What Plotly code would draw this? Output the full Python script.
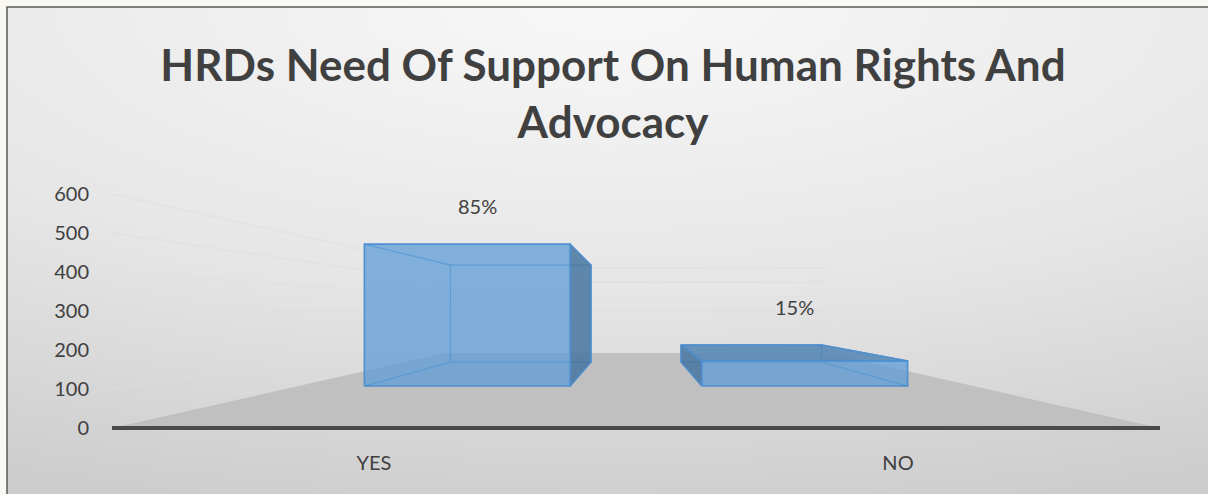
import plotly.graph_objects as go

# ---- data -------------------------------------------------------------
categories = ["YES", "NO"]
responses = [565, 100]
y_ticks = [0, 100, 200, 300, 400, 500, 600]
title_lines = ["HRDs Need Of Support On Human Rights And", "Advocacy"]

# ---- canvas / perspective settings -------------------------------------
W, H = 1208, 494
FONT = "Lato"

# plot area of the chart subplot in pixels
PX_LEFT, PX_RIGHT = 100, 1200
PX_TOP, PX_BOTTOM = 175, 445
FLOOR_LEFT_PX = 112          # pixel of the floor's front-left corner
PX_PER_CAT = 524             # pixels per category on the front plane
ZERO_PX = 428                # pixel row of value 0 on the front plane
PX_PER_VAL = 0.39            # pixels per value unit on the front plane

# vanishing point (category units, value units) and depths
EYE_X = 0.5
EYE_V = 302
FLOOR_DEPTH = 1.747
BAR_Z0, BAR_Z1 = 0.553, 1.273
BAR_HALF = 0.305


def project(x, v, z):
    """Perspective projection onto the front plane (z = 0)."""
    s = 1.0 / (1.0 + z)
    return EYE_X + s * (x - EYE_X), EYE_V + s * (v - EYE_V)


def poly(points):
    xs, ys = [], []
    for p in points:
        px, py = project(*p)
        xs.append(px)
        ys.append(py)
    xs.append(xs[0])
    ys.append(ys[0])
    return xs, ys


x_range = [-0.5 - (FLOOR_LEFT_PX - PX_LEFT) / PX_PER_CAT,
           -0.5 + (PX_RIGHT - FLOOR_LEFT_PX) / PX_PER_CAT]
y_range = [(ZERO_PX - PX_BOTTOM) / PX_PER_VAL, (ZERO_PX - PX_TOP) / PX_PER_VAL]

fig = go.Figure()

# ---- background gradient panel (subplot x/y) ---------------------------
fig.add_trace(go.Scatter(
    x=[-0.7, 1.7, 1.7, -0.7, -0.7], y=[-0.05, -0.05, 2.05, 2.05, -0.05],
    mode="none", fill="toself",
    fillgradient=dict(type="radial",
                      colorscale=[[0, "#f8f8f8"], [0.55, "#e6e6e6"], [1, "#cdcdcd"]]),
    hoverinfo="skip", showlegend=False, xaxis="x", yaxis="y",
))

# ---- chart (subplot x2/y2) ---------------------------------------------
x_lo, x_hi = -0.5, len(categories) - 0.5
wall_color = "rgba(222,222,222,0.55)"

# side wall and back wall gridlines
for v in y_ticks[1:]:
    xs, ys = poly([(x_lo, v, 0), (x_lo, v, FLOOR_DEPTH)])
    fig.add_trace(go.Scatter(x=xs[:2], y=ys[:2], mode="lines",
                             line=dict(color=wall_color, width=1.5),
                             hoverinfo="skip", showlegend=False,
                             xaxis="x2", yaxis="y2"))
    xs, ys = poly([(x_lo, v, FLOOR_DEPTH), (x_hi, v, FLOOR_DEPTH)])
    fig.add_trace(go.Scatter(x=xs[:2], y=ys[:2], mode="lines",
                             line=dict(color=wall_color, width=1.5),
                             hoverinfo="skip", showlegend=False,
                             xaxis="x2", yaxis="y2"))

# floor
xs, ys = poly([(x_lo, 0, 0), (x_hi, 0, 0), (x_hi, 0, FLOOR_DEPTH), (x_lo, 0, FLOOR_DEPTH)])
fig.add_trace(go.Scatter(x=xs, y=ys, mode="none", fill="toself", fillcolor="#c0c0c0",
                         hoverinfo="skip", showlegend=False, xaxis="x2", yaxis="y2"))

# front edge of the floor (category axis line)
xs, ys = poly([(x_lo, 0, 0), (x_hi, 0, 0)])
fig.add_trace(go.Scatter(x=xs[:2], y=ys[:2], mode="lines",
                         line=dict(color="#4a4a4a", width=4),
                         hoverinfo="skip", showlegend=False, xaxis="x2", yaxis="y2"))

FRONT_FILL = "rgba(91,155,213,0.74)"
SIDE_FILL = "rgba(70,118,160,0.85)"
TOP_FILL = "rgba(84,134,182,0.88)"
EDGE = "#4d8fd0"
FAINT_EDGE = "rgba(77,143,208,0.85)"

total = sum(responses)
annotations = []

for i, (cat, val) in enumerate(zip(categories, responses)):
    x0, x1 = i - BAR_HALF, i + BAR_HALF
    F = [(x0, 0, BAR_Z0), (x1, 0, BAR_Z0), (x1, val, BAR_Z0), (x0, val, BAR_Z0)]
    B = [(x0, 0, BAR_Z1), (x1, 0, BAR_Z1), (x1, val, BAR_Z1), (x0, val, BAR_Z1)]

    def add_poly(points, fill=None, line=None, width=1.0, closed=True):
        xs, ys = poly(points)
        if not closed:
            xs, ys = xs[:-1], ys[:-1]
        fig.add_trace(go.Scatter(
            x=xs, y=ys,
            mode="lines" if line else "none",
            fill="toself" if fill else None,
            fillcolor=fill,
            line=dict(color=line or "rgba(0,0,0,0)", width=width),
            hoverinfo="skip", showlegend=False, xaxis="x2", yaxis="y2"))

    # hidden edges, seen through the translucent front
    add_poly(B, line=FAINT_EDGE, width=1.2)
    for k in range(4):
        add_poly([F[k], B[k]], line=FAINT_EDGE, width=1.2, closed=False)

    # side face facing the viewer
    if x1 < EYE_X:
        add_poly([F[1], B[1], B[2], F[2]], fill=SIDE_FILL, line=EDGE, width=1.2)
    elif x0 > EYE_X:
        add_poly([F[0], B[0], B[3], F[3]], fill=SIDE_FILL, line=EDGE, width=1.2)

    # top face when below eye level
    if val < EYE_V:
        add_poly([F[3], F[2], B[2], B[3]], fill=TOP_FILL, line=EDGE, width=1.2)

    # front face
    add_poly(F, fill=FRONT_FILL, line=EDGE, width=1.6)

    # value label above the projected box
    pts = [project(*p) for p in F + B]
    cx = (min(p[0] for p in pts) + max(p[0] for p in pts)) / 2
    top = max(p[1] for p in pts)
    pct = round(100 * val / total)
    annotations.append(dict(
        x=cx, y=top, xref="x2", yref="y2", text=f"{pct}%", showarrow=False,
        yanchor="bottom", yshift=24,
        font=dict(family=FONT, size=20, color="#404040")))

# outer frame
shapes = [dict(type="rect", xref="paper", yref="paper",
               x0=7 / W, x1=1.05, y0=-0.05, y1=1 - 7 / H,
               line=dict(color="#5a5a5a", width=1.5), layer="above")]

fig.update_layout(
    width=W, height=H,
    margin=dict(l=0, r=0, t=0, b=0),
    paper_bgcolor="#faf8f3",
    plot_bgcolor="rgba(0,0,0,0)",
    showlegend=False,
    title=dict(text="<br>".join(title_lines), x=613 / W, y=1 - 80.5 / H,
               xanchor="center", yanchor="middle", xref="paper", yref="paper",
               font=dict(family=FONT, size=44, color="#404040", weight="bold")),
    xaxis=dict(domain=[7 / W, 1], range=[0, 1], visible=False, fixedrange=True),
    yaxis=dict(domain=[0, 1 - 7 / H], range=[0, 1], visible=False, fixedrange=True),
    xaxis2=dict(domain=[PX_LEFT / W, PX_RIGHT / W], range=x_range, anchor="y2",
                tickvals=list(range(len(categories))), ticktext=categories,
                showgrid=False, zeroline=False, showline=False, ticks="",
                ticklabelstandoff=4,
                tickfont=dict(family=FONT, size=20, color="#404040")),
    yaxis2=dict(domain=[1 - PX_BOTTOM / H, 1 - PX_TOP / H], range=y_range, anchor="x2",
                tickvals=y_ticks, showgrid=False, zeroline=False, showline=False,
                ticks="", ticklabelstandoff=10,
                tickfont=dict(family=FONT, size=20, color="#404040")),
    annotations=annotations,
    shapes=shapes,
)

fig.write_html("out.html")
